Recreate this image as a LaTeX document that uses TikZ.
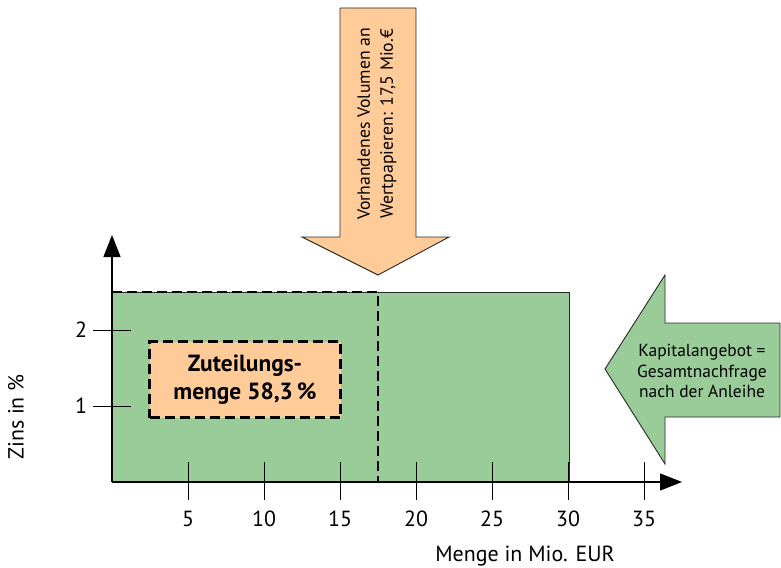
\documentclass[tikz,border=0pt]{standalone}
\usepackage{fontspec}
\setmainfont{PT Sans}
\usetikzlibrary{arrows.meta}
\definecolor{grn}{RGB}{153,204,153}
\definecolor{peach}{RGB}{255,204,153}
\definecolor{edge}{RGB}{40,40,40}
\tikzset{
  axis/.style={line width=1.3bp, -{Triangle[length=22bp,width=17bp]}},
  tickmark/.style={line width=1bp},
  lbl/.style={font=\fontsize{22}{26}\selectfont, inner sep=0pt},
  shapeout/.style={draw=edge, line width=0.9bp},
  dashline/.style={line width=2.4bp, dash pattern=on 10bp off 5bp},
}
\begin{document}
\begin{tikzpicture}[x=1bp,y=-1bp]
\useasboundingbox (0,0) rectangle (781,568);
% green block
\fill[grn, shapeout] (112,292) rectangle (569,482);
% top arrow
\filldraw[fill=peach, shapeout] (340,8) -- (416,8) -- (416,237) -- (449,237) -- (378,275) -- (302,237) -- (340,237) -- cycle;
\node[rotate=90, align=center, font=\fontsize{17.8}{23}\selectfont] (vol) at (377,124) {Vorhandenes Volumen an\\Wertpapieren: 17,5 Mio.€};
% right arrow
\filldraw[fill=grn, shapeout] (605,369) -- (665,275) -- (665,323) -- (780,323) -- (780,417) -- (665,417) -- (665,464) -- cycle;
\node[align=center, font=\fontsize{17.5}{21}\selectfont] (kap) at (702,371) {Kapitalangebot =\\Gesamtnachfrage\\nach der Anleihe};
% dashed allotment outline
\draw[dashline] (112,292) -- (378,292) -- (378,482);
% Zuteilungsmenge box
\node[draw, dashline, fill=peach, minimum width=191bp, minimum height=76bp, align=center,
      font=\bfseries\fontsize{23.5}{28}\selectfont] (zut) at (245,379.5) {Zuteilungs-\\menge 58,3\,\%};
% axes
\coordinate (o) at (112,482);
\coordinate (ytop) at (112,235);
\coordinate (xend) at (682,482);
\draw[axis] (o) -- (ytop);
\draw[axis] (o) -- (xend);
% x ticks
\foreach \v/\x in {5/188,10/264,15/340,20/416,25/492,30/568,35/644}{
  \draw[tickmark] (\x,462) -- (\x,500);
  \node[lbl] (xt\v) at (\x,519) {\v};
}
% y ticks
\foreach \v/\y in {1/406,2/330}{
  \draw[tickmark] (93,\y) -- (131,\y);
  \node[lbl] (yt\v) at (81,\y) {\v};
}
\node[lbl] (xlab) at (525,556) {Menge in Mio. EUR};
\node[lbl, rotate=90] (ylab) at (16,417) {Zins in \%};
\end{tikzpicture}
\end{document}
